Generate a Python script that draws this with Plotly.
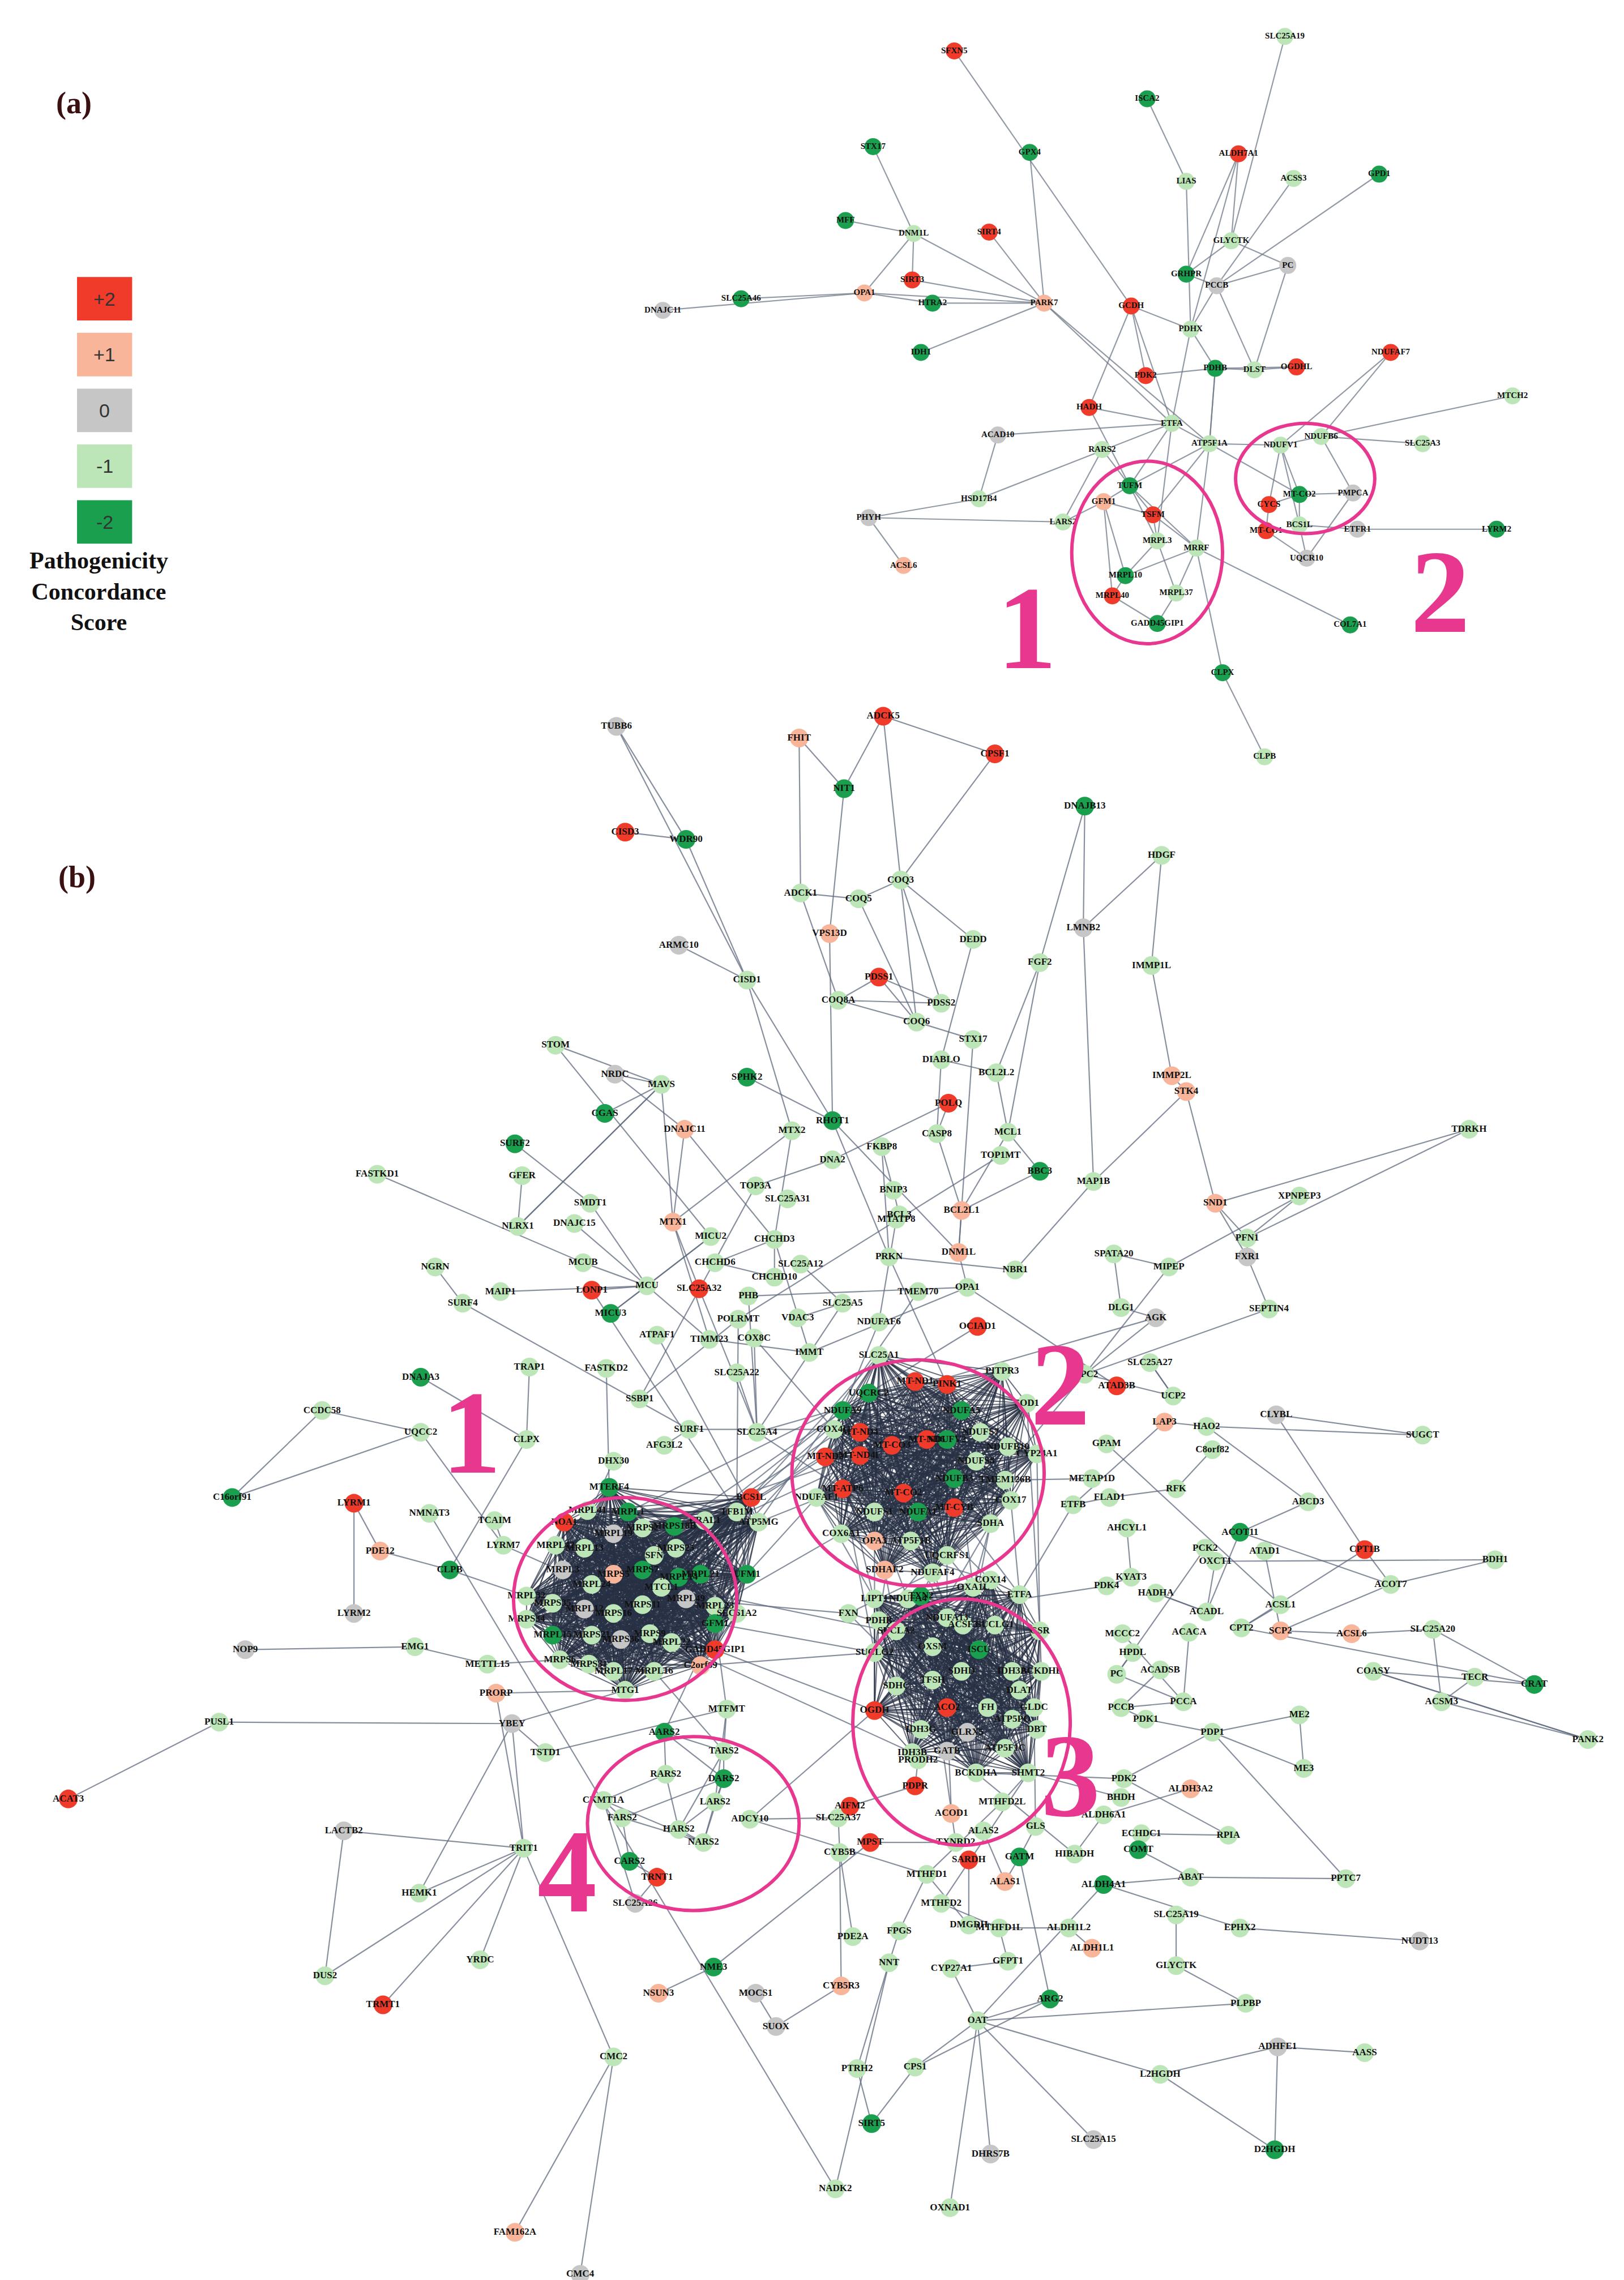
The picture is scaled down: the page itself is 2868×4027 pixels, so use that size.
import plotly.graph_objects as go

COLORS = {2: "#f03a2a", 1: "#f9b59a", 0: "#c6c6c6", -1: "#bde6b8", -2: "#1a9f4f"}

# ---------------- panel (a) ----------------
A_NODES = [
("SFXN5",655,32,2),("SLC25A19",883,22,-1),("ISCA2",788,65,-2),("ALDH7A1",851,103,2),("LIAS",815,122,-1),
("ACSS3",889,120,-1),("GPD1",948,117,-2),("STX17",599,98,-2),("GPX4",707,102,-2),("MFF",580,149,-2),
("DNM1L",627,158,-1),("SIRT4",679,157,2),("GLYCTK",846,163,-1),("SIRT3",626,190,2),("OPA1",593,199,1),
("PARK7",717,206,1),("PC",885,180,0),("GRHPR",815,186,-2),("PCCB",836,194,0),("DNAJC11",454,211,0),
("SLC25A46",508,203,-2),("HTRA2",640,206,-2),("GCDH",777,208,2),("PDHX",818,224,-1),("NDUFAF7",956,240,2),
("IDH1",632,240,-2),("PDHB",835,251,-2),("DLST",862,252,-1),("OGDHL",891,250,2),("PDK2",787,256,2),
("MTCH2",1040,270,-1),("HADH",748,278,2),("ETFA",805,289,-1),("ACAD10",685,297,0),("ATP5F1A",831,303,-1),
("NDUFV1",880,304,-1),("NDUFB6",908,298,-1),("SLC25A3",978,303,-1),("RARS2",757,307,-1),("TUFM",776,332,-2),
("HSD17B4",672,341,-1),("GFM1",758,343,1),("TSFM",792,352,2),("MT-CO2",893,338,-2),("PMPCA",930,337,0),
("CYCS",872,345,2),("BCS1L",893,359,-1),("LARS2",730,357,-1),("MRPL3",795,370,-1),("MRRF",822,375,-1),
("LYRM2",1029,362,-2),("ETFR1",933,362,0),("UQCR10",898,382,0),("MT-CO1",870,363,2),("PHYH",596,354,0),
("ACSL6",620,387,1),("MRPL10",773,394,-2),("MRPL40",764,408,2),("MRPL37",808,406,-1),
("GADD45GIP1",795,427,-2),("COL7A1",928,428,-2),("CLPX",840,461,-2),("CLPB",869,519,-1),
]
A_EDGES = """SFXN5-GCDH SLC25A19-GLYCTK ISCA2-LIAS LIAS-PDHX ALDH7A1-GLYCTK ALDH7A1-GRHPR ALDH7A1-PDHX ACSS3-PCCB
GPD1-PCCB STX17-DNM1L GPX4-PARK7 MFF-DNM1L DNM1L-SIRT3 DNM1L-OPA1 DNM1L-PARK7 SIRT4-PARK7 SIRT3-PARK7
OPA1-DNAJC11 OPA1-SLC25A46 OPA1-HTRA2 OPA1-PARK7 HTRA2-PARK7 PARK7-ATP5F1A PARK7-ETFA GLYCTK-PC GLYCTK-GRHPR
PC-PCCB GRHPR-PCCB PCCB-PDHX PCCB-DLST PC-DLST PDHX-PDHB PDHX-GCDH GCDH-HADH GCDH-ETFA GCDH-PDK2 PDHB-DLST
PDHB-OGDHL DLST-OGDHL PDK2-PDHB PDHB-ATP5F1A IDH1-PARK7 NDUFAF7-NDUFV1 NDUFAF7-NDUFB6 MTCH2-NDUFB6 HADH-ETFA
HADH-TUFM ETFA-ATP5F1A ACAD10-ETFA ATP5F1A-NDUFV1 ATP5F1A-TUFM ATP5F1A-MT-CO2 NDUFV1-NDUFB6 NDUFV1-MT-CO2
NDUFB6-SLC25A3 NDUFB6-PMPCA NDUFV1-BCS1L RARS2-TUFM RARS2-LARS2 HSD17B4-ACAD10 HSD17B4-PHYH HSD17B4-ETFA
PHYH-ACSL6 PHYH-LARS2 LARS2-GFM1 TUFM-TSFM TUFM-GFM1 TUFM-MRPL3 GFM1-TSFM GFM1-MRPL10 TSFM-MRRF TSFM-MRPL3
MRPL3-MRPL10 MRPL3-MRPL37 MRPL10-MRPL40 MRPL40-GADD45GIP1 MRPL37-GADD45GIP1 MRRF-MRPL37 MRRF-MRPL10
MT-CO2-CYCS MT-CO2-PMPCA MT-CO2-BCS1L CYCS-MT-CO1 BCS1L-UQCR10 MT-CO1-UQCR10 PMPCA-UQCR10 ETFR1-BCS1L
LYRM2-ETFR1 COL7A1-MRRF CLPX-MRRF CLPX-CLPB ATP5F1A-TSFM ETFA-MRPL3 TUFM-MRRF GFM1-MRPL40 ETFA-TUFM
PDHX-ETFA NDUFV1-CYCS ATP5F1A-MRRF ATP5F1A-PDHB""".split()

# ---------------- panel (b) ----------------
B_PERIPH = [
("TUBB6",422,498,0),("FHIT",548,506,1),("ADCK5",606,491,2),("CPSF1",683,517,2),("NIT1",579,541,-2),
("DNAJB13",745,553,-2),("CISD3",428,571,2),("WDR90",470,576,-2),("HDGF",798,587,-1),("ADCK1",549,613,-1),
("COQ5",589,617,-1),("COQ3",618,604,-1),("DEDD",668,645,-1),("LMNB2",744,637,0),("ARMC10",465,649,0),
("VPS13D",569,641,1),("FGF2",714,661,-1),("IMMP1L",791,663,-1),("CISD1",512,673,-1),("PDSS1",603,671,2),
("COQ8A",575,687,-1),("PDSS2",646,689,-1),("COQ6",629,702,-1),("STX17",668,714,-1),("STOM",380,718,-1),
("DIABLO",646,728,-1),("NRDC",421,738,0),("BCL2L2",684,737,-1),("IMMP2L",805,739,1),("MAVS",453,745,-1),
("SPHK2",512,740,-2),("STK4",815,750,1),("POLQ",651,758,2),("MCL1",692,778,-1),("TDRKH",1010,776,-1),
("CGAS",414,765,-2),("DNAJC11",469,776,1),("MTX2",543,777,-1),("RHOT1",571,770,-2),("FKBP8",605,788,-1),
("CASP8",643,779,-1),("TOP1MT",687,794,-1),("BBC3",714,805,-2),("MAP1B",751,812,-1),("SURF2",352,786,-2),
("FASTKD1",257,807,-1),("GFER",357,808,-1),("DNA2",571,797,-1),("BNIP3",613,818,-1),("TOP3A",518,815,-1),
("BCL3",617,835,-1),("SLC25A31",540,824,-1),("XPNPEP3",893,822,-1),("SMDT1",404,827,-1),("SND1",835,827,1),
("NLRX1",354,843,-1),("DNAJC15",393,841,-1),("MTX1",461,840,1),("MICU2",487,850,-1),("CHCHD3",531,852,-1),
("BCL2L1",660,832,1),("MTATP8",615,838,-1),("CHCHD6",490,868,-1),("PFN1",857,851,-1),("NGRN",297,871,-1),
("SLC25A12",549,869,-1),("SPATA20",765,862,-1),("FXR1",857,864,0),("DNM1L",658,861,1),("PRKN",610,864,-1),
("CHCHD10",531,878,-1),("MCUB",399,868,-1),("MIPEP",803,871,-1),("NBR1",697,873,-1),("MAIP1",342,888,-1),
("SURF4",316,896,-1),("LONP1",405,887,2),("MCU",443,884,-1),("SLC25A32",479,886,2),("PHB",513,891,-1),
("POLRMT",506,907,-1),("TMEM70",630,888,-1),("OPA1",664,885,-1),("SLC25A5",578,896,-1),("MICU3",418,903,-2),
("VDAC3",547,906,-1),("DLG1",770,899,-1),("AGK",794,906,0),("SEPTIN4",872,900,-1),("ATPAF1",450,918,-1),
("TIMM23",486,921,-1),("COX8C",517,920,-1),("NDUFAF6",603,909,-1),("OCIAD1",671,912,2),("IMMT",555,930,-1),
("TRAP1",362,940,-1),("FASTKD2",415,941,-1),("SLC25A22",505,944,-1),("MPC2",745,945,-1),("SLC25A27",790,937,-1),
("DNAJA3",287,947,-2),("SSBP1",438,962,-1),("ATAD3B",767,953,2),("UCP2",806,960,-1),("CCDC58",219,970,-1),
("UQCC2",287,985,-1),("CLPX",360,990,-1),("DHX30",420,1005,-1),("AFG3L2",455,994,-1),("SURF1",472,983,-1),
("SLC25A4",519,985,-1),("LAP3",800,978,1),("HAO2",829,981,-1),("CLYBL",877,973,0),("SUGCT",978,987,-1),
("C8orf82",833,997,-1),("GPAM",760,993,-1),("C16orf91",157,1030,-2),("LYRM1",241,1034,2),("NMNAT3",293,1041,-1),
("TCAIM",338,1046,-1),("RFK",808,1024,-1),("ABCD3",899,1033,-1),("FLAD1",762,1030,-1),("METAP1D",750,1017,-1),
("ETFB",737,1035,-1),("PDE12",259,1067,1),("LYRM7",344,1063,-1),("AHCYL1",774,1051,-1),("ACOT11",852,1054,-2),
("CPT1B",938,1066,2),("BDH1",1028,1073,-1),("PCK2",828,1065,-1),("OXCT1",835,1074,-1),("ATAD1",869,1067,-1),
("LYRM2",241,1110,0),("CLPB",307,1080,-2),("KYAT3",777,1085,-1),("PDK4",760,1091,-1),("HADHA",794,1096,-1),
("ACOT7",956,1090,-1),("ACSL1",880,1104,-1),("ACADL",829,1109,-1),("NOP9",166,1135,0),("EMG1",283,1133,-1),
("ACACA",817,1123,-1),("SCP2",880,1122,1),("ACSL6",929,1124,1),("SLC25A20",985,1121,-1),("CPT2",853,1120,-1),
("MCCC2",771,1124,-1),("METTL15",333,1145,-1),("PRORP",339,1165,1),("HPDL",778,1137,-1),("ACADSB",797,1149,-1),
("COASY",944,1150,-1),("TECR",1014,1154,-1),("CRAT",1055,1159,-2),("PC",767,1152,-1),("ACSM3",991,1171,-1),
("YBEY",350,1186,0),("PUSL1",148,1185,-1),("PCCA",813,1171,-1),("ME2",893,1180,-1),("PCCB",770,1175,-1),
("PDK1",787,1183,-1),("PDP1",833,1192,-1),("PANK2",1092,1197,-1),("ME3",896,1217,-1),("TSTD1",373,1206,-1),
("ALDH3A2",818,1231,1),("PDK2",772,1224,-1),("BHDH",770,1237,-1),("ACAT3",44,1238,2),("LACTB2",234,1260,0),
("TRIT1",358,1272,-1),("RPIA",844,1263,-1),("ALDH6A1",758,1249,-1),("ECHDC1",784,1262,-1),("COMT",782,1273,-2),
("ABAT",818,1292,-1),("ALDH4A1",758,1297,-2),("PPTC7",925,1293,-1),("HEMK1",286,1303,-1),("SLC25A19",808,1318,-1),
("EPHX2",852,1327,-1),("NUDT13",976,1336,0),("YRDC",328,1349,-1),("DUS2",221,1360,-1),("TRMT1",261,1380,2),
("CMC2",420,1416,-1),("GLYCTK",808,1353,-1),("PLPBP",856,1379,-1),("ADHFE1",878,1409,0),("AASS",938,1413,-1),
("L2HGDH",797,1428,-1),("D2HGDH",876,1480,-2),("SLC25A15",751,1473,0),("DHRS7B",680,1483,0),("SIRT5",598,1462,-2),
("NADK2",573,1507,-1),("OXNAD1",652,1520,-1),("FAM162A",352,1537,1),("CMC4",397,1566,0),("CPS1",628,1423,-1),
("PTRH2",588,1424,-1),("OAT",671,1391,-1),("ARG2",721,1376,-2),("CYP27A1",653,1355,-1),("GFPT1",692,1350,-1),
("MTHFD1L",686,1327,-1),("ALDH1L2",734,1327,-1),("ALDH1L1",750,1341,1),("NNT",610,1351,-1),("FPGS",617,1329,-1),
("PDE2A",585,1333,-1),("CYB5R3",577,1367,1),("MOCS1",518,1372,0),("SUOX",532,1395,0),("NSUN3",451,1372,1),
("NME3",489,1354,-2),("SLC25A26",435,1310,0),("TRNT1",450,1292,2),("CARS2",431,1281,-2),("MPST",597,1268,2),
("CYB5B",576,1275,-1),("SLC25A37",575,1251,-1),("SARDH",665,1280,2),("ALAS1",690,1295,1),("GATM",700,1278,-2),
("MTHFD2",646,1310,-1),("DMGDH",665,1325,-1),("MTHFD1",636,1290,-1),("GLS",711,1257,-1),("HIBADH",738,1276,-1),
("AIFM2",583,1243,2),("PDPR",628,1229,2),("ACOD1",653,1248,1),("ALAS2",675,1260,-1),("TXNRD2",656,1268,-1),
("PRODH2",630,1211,-1),("MTHFD2L",688,1240,-1),("ADCY10",514,1252,-1),("NARS2",482,1268,-1),("FARS2",426,1251,-1),
("CKMT1A",413,1239,-1),("HARS2",465,1259,-1),("LARS2",490,1240,-1),("RARS2",456,1221,-1),("DARS2",496,1224,-2),
("AARS2",455,1192,-2),("TARS2",496,1205,-1),("MTFMT",498,1176,-1),("FXN",582,1110,-1),
]
CLUSTER1 = [
("MTERF4",417,1023,-2),("NOA1",386,1047,2),("MRPL41",402,1039,-1),("MRPL1",430,1040,-2),("MRPL42",380,1063,-1),
("MRPL13",400,1065,-1),("MRPL19",420,1055,0),("MRPS2",440,1051,-1),("MRPS18B",462,1050,-2),("ERAL1",483,1046,-1),
("MRPS25",463,1065,-1),("TFB1M",505,1040,-1),("BCS1L",515,1030,2),("ATP5MG",520,1047,-1),("MRPL3",385,1080,0),
("MRPL24",405,1090,-1),("MRPS5",420,1083,1),("MRPS7",440,1080,-2),("SFN",448,1070,-1),("MRPL14",465,1085,-2),
("MRPL21",480,1083,-2),("UFM1",512,1083,-2),("MRPL32",360,1098,-1),("MRPS35",378,1103,-1),("MRPL12",400,1107,0),
("MRPS16",420,1110,-1),("MRPS11",440,1104,-1),("MTCL1",453,1092,-1),("MRPL49",470,1100,0),("MRPL23",490,1105,-1),
("GFM1",490,1117,-2),("SLC61A2",505,1110,-1),("MRPS34",360,1114,-1),("MRPL15",378,1125,-2),("MRPS21",405,1125,-1),
("MRPS36",425,1128,0),("MRPS9",445,1124,-1),("MRPL22",460,1130,-1),("GADD45GIP1",490,1135,2),("MRPS6",383,1142,-1),
("MRPS31",403,1145,-1),("MRPL17",420,1150,-1),("MRPL16",448,1150,-1),("C2orf69",480,1146,1),("MTG1",428,1163,-1),
]
CLUSTER2 = [
("UQCRC2",596,958,-2),("MT-ND1",628,950,2),("PINK1",650,952,2),("SLC25A1",603,932,-1),("COX4I1",572,983,-1),
("MT-ND4",590,985,2),("NDUFA9",578,970,-2),("MT-ND2",566,1002,2),("MT-ND4L",590,1001,2),("MT-CO3",612,994,2),
("MT-ND6",636,990,2),("NDUFA5",660,970,-2),("NDUFV2",650,990,-2),("NDUFS7",673,985,-1),("NDUFB10",692,995,-1),
("CYP24A1",712,1000,-1),("MT-CO2",620,1027,2),("MT-ATP6",578,1024,2),("NDUFAF1",560,1030,-1),("COX6A1",577,1055,-1),
("NDUFS1",600,1040,-1),("NDUFA1",630,1040,-2),("NDUFB3",655,1017,-2),("NDUFS8",670,1005,-1),("TMEM126B",690,1018,-1),
("SDHA",680,1048,-1),("OPA3",600,1060,1),("ATP5F1B",625,1060,-1),("UQCRFS1",650,1070,-1),("NDUFAF4",640,1082,-1),
("MT-CYB",655,1037,2),("COX17",694,1032,-1),("SOD1",705,965,-1),("PITPR3",688,943,-1),("SDHAF2",607,1080,1),
]
CLUSTER3 = [
("SUCLG2",600,1137,-1),("OXSM",640,1133,-1),("ISCU",672,1135,-2),("SDHC",615,1160,-1),("TFSH",640,1156,-1),
("IDH3A",695,1150,-1),("BCKDHB",715,1150,-1),("OGDH",600,1177,2),("IDH3G",632,1190,-1),("ACO2",650,1175,2),
("FH",678,1175,-1),("ATP5PO",695,1183,-1),("GLDC",710,1175,-1),("DLAT",700,1163,-1),("IDH3B",626,1206,-1),
("GATB",650,1205,0),("GLRX5",664,1192,0),("BCKDHA",670,1220,-1),("SHMT2",706,1220,-1),("ATP5F1C",690,1203,-1),
("DBT",712,1190,-1),("SDHD",660,1150,-1),("ACSF3",661,1118,-1),("NDUFA13",650,1113,-1),("SUCLA2",615,1122,-1),
("NDUFA4",623,1100,-1),("TXN2",632,1098,-2),("LIPT1",600,1100,-1),("PDHB",603,1115,-1),("GSR",714,1122,-1),
("SUCLG1",683,1118,-1),("ETFA",700,1097,-1),("COX14",680,1087,-1),("OXA1L",668,1092,-1),
]
B_LINKS = """TUBB6-WDR90 FHIT-NIT1 ADCK5-NIT1 ADCK5-CPSF1 ADCK5-COQ3 NIT1-VPS13D CPSF1-COQ3 DNAJB13-LMNB2 CISD3-WDR90
WDR90-CISD1 HDGF-IMMP1L ADCK1-COQ5 ADCK1-COQ8A COQ5-COQ3 COQ3-COQ6 COQ3-PDSS2 COQ5-COQ6 COQ3-DEDD COQ8A-COQ6 PDSS1-PDSS2
PDSS1-COQ6 COQ8A-PDSS1 COQ8A-PDSS2 VPS13D-RHOT1 COQ6-STX17 DEDD-DIABLO LMNB2-MAP1B FGF2-BCL2L2 IMMP1L-IMMP2L ARMC10-CISD1
CISD1-MTX2 CISD1-RHOT1 STX17-DNM1L DIABLO-CASP8 DIABLO-BCL2L2 BCL2L2-MCL1 IMMP2L-STK4 STK4-SND1 STK4-MAP1B POLQ-CASP8
MCL1-BBC3 MCL1-BCL2L1 MAVS-MTX1 MAVS-NLRX1 SPHK2-RHOT1 CGAS-MAVS DNAJC11-MTX1 DNAJC11-CHCHD3 MTX2-MTX1 MTX2-CHCHD3
RHOT1-PRKN RHOT1-DNM1L FKBP8-BNIP3 FKBP8-PRKN CASP8-BCL2L1 TOP1MT-POLRMT BBC3-BCL2L1 MAP1B-NBR1 SURF2-SMDT1
FASTKD1-MCUB GFER-NLRX1 DNA2-TOP3A DNA2-POLQ BNIP3-BCL3 TOP3A-SSBP1 XPNPEP3-PFN1 SMDT1-MCU SND1-FXR1 SND1-PFN1 NLRX1-MAVS
DNAJC15-TIMM23 MTX1-SLC25A32 MICU2-MCU CHCHD3-CHCHD10 BCL2L1-DNM1L MTATP8-NDUFAF6 CHCHD6-CHCHD3 NGRN-SURF4 SLC25A12-SLC25A5
SPATA20-MIPEP FXR1-PFN1 DNM1L-OPA1 PRKN-PINK1 CHCHD10-CHCHD6 MCUB-MCU MIPEP-MPC2 NBR1-PRKN MAIP1-MCU SURF4-SURF1
LONP1-TFB1M MCU-MICU3 SLC25A32-SLC25A4 PHB-OPA1 POLRMT-TFB1M TMEM70-ATP5MG OPA1-IMMT SLC25A5-SLC25A4 MICU3-MICU2
VDAC3-SLC25A5 DLG1-AGK AGK-SLC25A4 SEPTIN4-FXR1 ATPAF1-ATP5MG TIMM23-IMMT COX8C-COX4I1 NDUFAF6-NDUFA9 OCIAD1-UQCRC2
IMMT-CHCHD3 TRAP1-CLPX FASTKD2-MTERF4 SLC25A22-SLC25A4 MPC2-PDHB SLC25A27-UCP2 DNAJA3-CLPX SSBP1-POLRMT ATAD3B-OPA1
UCP2-SLC25A27 CCDC58-UQCC2 UQCC2-LYRM7 CLPX-CLPB DHX30-MRPL3 AFG3L2-SURF1 SURF1-COX4I1 SLC25A4-MT-ATP6 LAP3-HAO2
HAO2-ABCD3 CLYBL-SUGCT CLYBL-CPT1B C8orf82-RFK GPAM-ACSL1 C16orf91-UQCC2 LYRM1-LYRM2 LYRM1-PDE12 NMNAT3-NADK2 TCAIM-LYRM7
RFK-FLAD1 ABCD3-ACOT11 FLAD1-ETFB METAP1D-TMEM126B ETFB-ETFA PDE12-CLPB LYRM7-MRPL24 AHCYL1-KYAT3 ACOT11-ACOT7 CPT1B-CPT2
CPT1B-ACOT7 BDH1-OXCT1 PCK2-PC OXCT1-ACADL ATAD1-SCP2 CLPB-MRPL32 KYAT3-PDK4 PDK4-PDHB HADHA-ACADL ACOT7-SCP2 ACSL1-CPT2
ACADL-HADHA NOP9-EMG1 EMG1-METTL15 ACACA-PCCA SCP2-ACSL6 ACSL6-SLC25A20 SLC25A20-CRAT CPT2-CRAT MCCC2-PCCA METTL15-MRPS6
PRORP-TRIT1 PRORP-MTG1 HPDL-PC ACADSB-PCCB COASY-PANK2 TECR-ACSM3 CRAT-COASY PC-PCCA YBEY-TSTD1 YBEY-TRIT1 YBEY-MTG1 PUSL1-YBEY
PCCA-PCCB ME2-ME3 PCCB-PDK1 PDK1-PDP1 PDP1-PDK2 PANK2-COASY ME3-PDP1 TSTD1-MTFMT ALDH3A2-ALDH6A1 PDK2-BCKDHA BHDH-SHMT2
ACAT3-PUSL1 LACTB2-TRIT1 TRIT1-HEMK1 TRIT1-YRDC TRIT1-TRMT1 TRIT1-DUS2 TRIT1-CMC2 RPIA-ECHDC1 ALDH6A1-HIBADH ECHDC1-COMT
COMT-ABAT ABAT-ALDH4A1 ALDH4A1-OAT PPTC7-ABAT SLC25A19-GLYCTK EPHX2-ALDH4A1 NUDT13-EPHX2 GLYCTK-PLPBP PLPBP-OAT
ADHFE1-D2HGDH ADHFE1-L2HGDH AASS-ADHFE1 L2HGDH-OAT D2HGDH-L2HGDH SLC25A15-OAT DHRS7B-OAT SIRT5-CPS1 SIRT5-PTRH2
NADK2-NNT OXNAD1-OAT FAM162A-CMC2 CMC4-CMC2 CPS1-OAT CPS1-ARG2 PTRH2-NNT OAT-ARG2 OAT-CYP27A1 ARG2-GATM CYP27A1-GFPT1
GFPT1-MTHFD1L MTHFD1L-MTHFD2 ALDH1L2-MTHFD1L ALDH1L1-ALDH1L2 NNT-FPGS FPGS-MTHFD1 PDE2A-CYB5B CYB5R3-CYB5B MOCS1-SUOX
SUOX-CYB5R3 NSUN3-NME3 NME3-MPST SLC25A26-TRNT1 TRNT1-CARS2 CARS2-FARS2 MPST-TXNRD2 CYB5B-SLC25A37 SLC25A37-AIFM2
SARDH-DMGDH ALAS1-GATM GATM-GLS MTHFD2-SHMT2 DMGDH-MTHFD1 MTHFD1-MTHFD2L GLS-GLDC HIBADH-BCKDHA AIFM2-PDPR PDPR-PRODH2
ACOD1-ACO2 ALAS2-ALAS1 TXNRD2-TXN2 PRODH2-IDH3B MTHFD2L-SHMT2 ADCY10-SLC25A37 NARS2-HARS2 FARS2-CKMT1A CKMT1A-RARS2
HARS2-LARS2 LARS2-DARS2 RARS2-AARS2 DARS2-TARS2 AARS2-TARS2 TARS2-MTFMT MTFMT-GFM1 FXN-ISCU FXN-NDUFAF4 FXN-GLRX5
RARS2-HARS2 FARS2-NARS2 LARS2-NARS2 AARS2-DARS2 CKMT1A-NARS2 ADCY10-MTHFD1 NARS2-DARS2 ADCY10-OGDH CKMT1A-SLC25A26
HARS2-TARS2 LARS2-MTFMT FARS2-DARS2 AARS2-GFM1 TARS2-MRPL16 MTX1-TIMM23 PHB-SLC25A4 COX8C-SLC25A4 LONP1-MCU
STOM-MAVS STOM-MICU2 NRDC-MAVS NRDC-DNAJC11 TDRKH-SND1 TDRKH-PFN1 SEPTIN4-MPC2 SUGCT-HAO2 BDH1-ACOT7 AGK-MPC2
SPATA20-DLG1 ACSM3-SLC25A20 ME2-PDP1 PANK2-ACSM3 PPTC7-PDP1 RPIA-PDK2 HEMK1-YBEY DUS2-LACTB2 CCDC58-C16orf91
XPNPEP3-MIPEP DNAJB13-FGF2 HDGF-LMNB2 FGF2-MCL1 TUBB6-CISD1 FHIT-ADCK1 ACOT11-ACADL UCP2-MPC2 LAP3-ETFB""".split()
CROSS = """MRPL1-UQCRC2 MRPS7-MT-ND4 MRPL21-COX4I1 UFM1-NDUFAF1 GFM1-SUCLG2 GADD45GIP1-OGDH ATP5MG-MT-ATP6 BCS1L-UQCRC2
TFB1M-MT-ND2 MRPL23-COX6A1 NDUFAF4-TXN2 ATP5F1B-ATP5PO ATP5F1B-ATP5F1C SDHA-SDHC SDHA-SDHD SDHAF2-SUCLA2 COX6A1-COX14
MT-CO2-COX14 UQCRFS1-OXA1L MT-CYB-ETFA NDUFA1-NDUFA13 NDUFS1-NDUFA4 NDUFV2-NDUFA13 SDHA-ACSF3 MT-ND1-PDHB MRPS5-ISCU
MRPL49-FXN MRPS2-MT-ND4L ERAL1-NDUFA9 ERAL1-MT-ND1 MRPL14-SLC25A1 C2orf69-SUCLG2 MRPL22-IDH3B SFN-MT-CO3 MRPS18B-UQCRC2
NDUFAF1-LIPT1 MT-ATP6-SUCLG2 COX4I1-PDHB OPA3-OGDH PINK1-OXA1L CYP24A1-GSR SOD1-GSR TMEM126B-COX17 COX17-ETFA""".split()

fig = go.Figure()

def build(nodes, edges, full_groups=()):
    pos = {n[0]: (n[1], n[2]) for n in nodes}
    ex, ey = [], []
    def add(a, b):
        if a in pos and b in pos:
            ex.extend([pos[a][0], pos[b][0], None]); ey.extend([pos[a][1], pos[b][1], None])
    for e in edges:
        for i, ch in enumerate(e):
            if ch == "-" and e[:i] in pos and e[i+1:] in pos:
                add(e[:i], e[i+1:]); break
    for g in full_groups:
        names = [n[0] for n in g]
        for i in range(len(names)):
            for j in range(i + 1, len(names)):
                add(names[i], names[j])
    return ex, ey

ax_, ay_ = build(A_NODES, A_EDGES)
fig.add_trace(go.Scatter(x=ax_, y=ay_, mode="lines", line=dict(color="rgba(110,120,135,0.75)", width=2.2), hoverinfo="skip"))
B_ALL = B_PERIPH + CLUSTER1 + CLUSTER2 + CLUSTER3
bx, by = build(B_ALL, B_LINKS + CROSS)
fig.add_trace(go.Scatter(x=bx, y=by, mode="lines", line=dict(color="rgba(95,105,125,0.75)", width=2.2), hoverinfo="skip"))
cx, cy = build(B_ALL, [], (CLUSTER1, CLUSTER2, CLUSTER3))
fig.add_trace(go.Scatter(x=cx, y=cy, mode="lines", line=dict(color="rgba(40,48,68,0.7)", width=2), hoverinfo="skip"))

for nodes, size, fs in ((A_NODES, 30, 15), (B_ALL, 33, 17)):
    fig.add_trace(go.Scatter(
        x=[n[1] for n in nodes], y=[n[2] for n in nodes], mode="markers+text",
        marker=dict(size=size, color=[COLORS[n[3]] for n in nodes], line=dict(width=0)),
        text=["<b>%s</b>" % n[0] for n in nodes], textposition="middle center",
        textfont=dict(family="Liberation Serif", size=fs, color="#111"), hoverinfo="text"))

shapes = []
for cxx, cyy, rx, ry in [(788, 378, 52, 63), (897, 327, 48, 38), (428, 1100, 77, 70),
                         (630, 1013, 87, 78), (660, 1185, 75, 85), (475, 1255, 73, 60)]:
    shapes.append(dict(type="circle", xref="x", yref="y", x0=cxx-rx, x1=cxx+rx, y0=cyy-ry, y1=cyy+ry,
                       line=dict(color="#e8378f", width=6)))
LEGEND_LABELS = ["+2", "+1", "0", "-1", "-2"]
LEGEND_SCORES = [2, 1, 0, -1, -2]
for i, (lab, s) in enumerate(zip(LEGEND_LABELS, LEGEND_SCORES)):
    y0 = 188 + i * 38.5
    shapes.append(dict(type="rect", xref="x", yref="y", x0=50, x1=88, y0=y0, y1=y0+30,
                       fillcolor=COLORS[s], line=dict(width=0)))
    fig.add_annotation(x=69, y=y0+15, text=lab, showarrow=False,
                       font=dict(family="Liberation Sans", size=34, color="#333"))
fig.add_annotation(x=65, y=405, text="<b>Pathogenicity<br>Concordance<br>Score</b>", showarrow=False,
                   font=dict(family="Liberation Serif", size=42, color="#111"))
fig.add_annotation(x=48, y=68, text="<b>(a)</b>", showarrow=False, font=dict(family="Liberation Serif", size=54, color="#3a1010"))
fig.add_annotation(x=50, y=602, text="<b>(b)</b>", showarrow=False, font=dict(family="Liberation Serif", size=54, color="#3a1010"))
for t, x, y in [("1", 705, 430), ("2", 990, 405), ("1", 322, 985), ("2", 728, 952), ("3", 735, 1222), ("4", 388, 1288)]:
    fig.add_annotation(x=x, y=y, text="<b>%s</b>" % t, showarrow=False,
                       font=dict(family="Liberation Serif", size=210, color="#e8378f"))

fig.update_layout(width=2868, height=4027, margin=dict(l=0, r=0, t=0, b=0), showlegend=False,
                  plot_bgcolor="white", paper_bgcolor="white", shapes=shapes)
fig.update_xaxes(range=[0, 1120], visible=False)
fig.update_yaxes(range=[1573, 0], visible=False)
fig.write_html("out.html")
